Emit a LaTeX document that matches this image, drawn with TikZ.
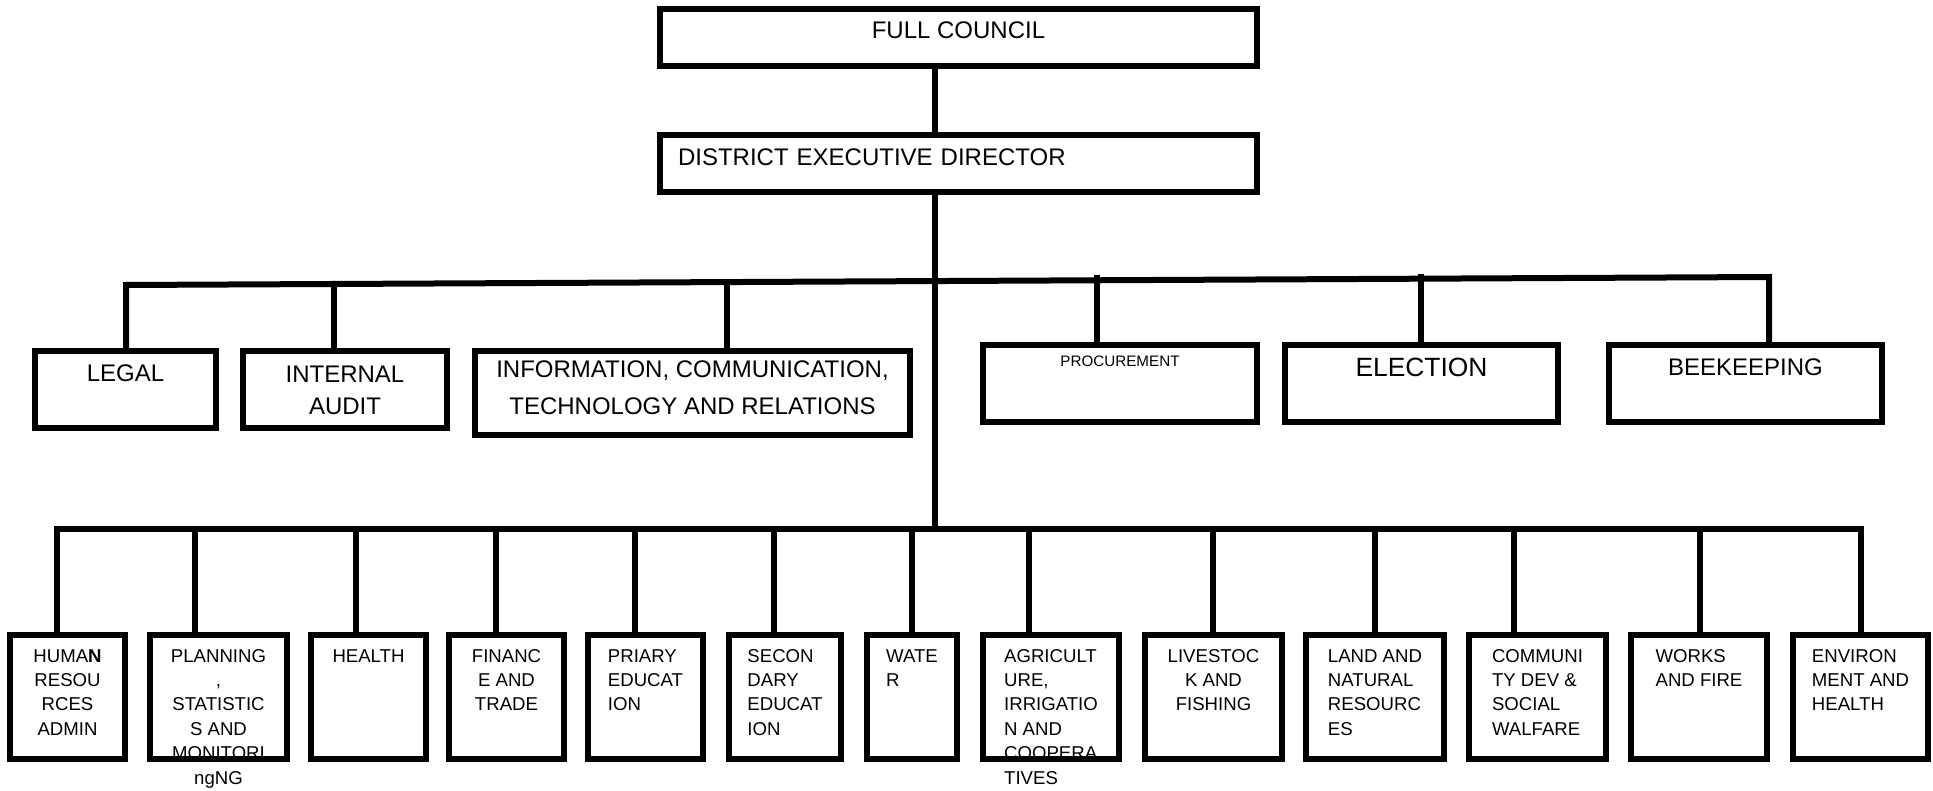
\documentclass[tikz,border=0pt]{standalone}
\usepackage{fontspec}
\setmainfont{Liberation Sans}
\usetikzlibrary{calc,positioning}

% lines of a box, first baseline on top
\newcommand{\boxlines}[2]{\begin{tabular}[t]{@{}#1@{}}#2\end{tabular}}

\begin{document}
\begin{tikzpicture}[x=0.5pt,y=-0.5pt]
    \tikzstyle{box}=[rectangle,draw=black,line width=3pt,inner sep=0pt,
    outer sep=0pt,anchor=north west]
    \tikzstyle{head}=[box,minimum width=298.5pt,text height=15pt,
    text depth=13.5pt,font=\fontsize{12}{15}\selectfont]
    \tikzstyle{unit}=[box,text height=15pt,text depth=23.5pt,
    font=\fontsize{12}{16}\selectfont]
    \tikzstyle{dept}=[box,text height=13.5pt,text depth=48.5pt,
    font=\fontsize{9.3}{12.2}\selectfont]
    \tikzstyle{link}=[line width=3pt]

    \useasboundingbox (0,0) rectangle (1933,791);

    % council and director
    \node[head](council) at (660,9){FULL COUNCIL};
    \node[head,text width=280.5pt,inner xsep=9pt,align=left,
    text height=15.5pt,text depth=13pt](ded) at (660,135){DISTRICT EXECUTIVE DIRECTOR};

    % units under the director
    \node[unit,minimum width=90.5pt](legal) at (35,351){LEGAL};
    \node[unit,minimum width=102pt,text height=15.5pt,text depth=23pt](audit)
    at (243,351){\boxlines{c}{INTERNAL\\AUDIT}};
    \node[unit,minimum width=217.5pt,text height=13.5pt,text depth=28.5pt,
    font=\fontsize{12}{18}\selectfont](ict) at (475,351){\boxlines{c}{INFORMATION, COMMUNICATION,\\TECHNOLOGY AND RELATIONS}};
    \node[unit,minimum width=137pt,text height=10.5pt,text depth=28pt,
    font=\fontsize{7.6}{9}\selectfont](proc) at (983,345){PROCUREMENT};
    \node[unit,minimum width=136.5pt,text height=15.5pt,text depth=23pt,
    font=\fontsize{13.2}{16}\selectfont](election) at (1285,345){ELECTION};
    \node[unit,minimum width=136.5pt](bee) at (1609,345){BEEKEEPING};

    % departments
    \node[dept,minimum width=57.5pt](hr) at (10,635){\boxlines{c}{HUMA\textbf{N}\\RESOU\\RCES\\ADMIN}};
    \node[dept,minimum width=68.5pt](plan) at (150,635){\boxlines{c}{PLANNING\\,\\STATISTIC\\S AND\\MONITORI\\ngNG}};
    \node[dept,minimum width=57.5pt](health) at (311,635){HEALTH};
    \node[dept,minimum width=57.5pt](finance) at (449,635){\boxlines{c}{FINANC\\E AND\\TRADE}};
    \node[dept,minimum width=57.5pt](primary) at (588,635){\boxlines{l}{PRIARY\\EDUCAT\\ION}};
    \node[dept,minimum width=56pt](secondary) at (729,635){\boxlines{l}{SECON\\DARY\\EDUCAT\\ION}};
    \node[dept,minimum width=45pt](water) at (867,635){\boxlines{l}{WATE\\R}};
    \node[dept,minimum width=68pt](agri) at (983,635){\boxlines{l}{AGRICULT\\URE,\\IRRIGATIO\\N AND\\COOPERA\\TIVES}};
    \node[dept,minimum width=68.5pt](livestock) at (1145,635){\boxlines{c}{LIVESTOC\\K AND\\FISHING}};
    \node[dept,minimum width=69pt](land) at (1306,635){\boxlines{l}{LAND AND\\NATURAL\\RESOURC\\ES}};
    \node[dept,minimum width=68.5pt](community) at (1469,635){\boxlines{l}{COMMUNI\\TY DEV \&\\SOCIAL\\WALFARE}};
    \node[dept,minimum width=68pt](works) at (1631,635){\boxlines{l}{WORKS\\AND FIRE}};
    \node[dept,minimum width=67.5pt](env) at (1793,635){\boxlines{l}{ENVIRON\\MENT AND\\HEALTH}};

    % bottom edges over the long texts
    \draw[line width=3pt] (plan.south west) -- (plan.south east);
    \draw[line width=3pt] (agri.south west) -- (agri.south east);

    % spine
    \coordinate (spine) at (935,529);
    \draw[link] (council.south -| spine) -- (ded.north -| spine);
    \draw[link] (ded.south -| spine) -- (spine);

    % upper bus
    \coordinate (legal_tap) at (126,285);
    \coordinate (audit_tap) at (334,284);
    \coordinate (ict_tap) at (727,282);
    \coordinate (proc_tap) at (1097,275);
    \coordinate (election_tap) at (1421,274);
    \coordinate (bee_tap) at (1769,277);
    \draw[link] (legal.north -| legal_tap) -- (legal_tap) -- (bee_tap) -- (bee.north -| bee_tap);
    \draw[link] (audit_tap) -- (audit.north -| audit_tap);
    \draw[link] (ict_tap) -- (ict.north -| ict_tap);
    \draw[link] (proc_tap) -- (proc.north -| proc_tap);
    \draw[link] (election_tap) -- (election.north -| election_tap);

    % lower bus
    \coordinate (hr_tap) at (57,529);
    \coordinate (plan_tap) at (195,529);
    \coordinate (health_tap) at (356,529);
    \coordinate (finance_tap) at (496,529);
    \coordinate (primary_tap) at (635,529);
    \coordinate (secondary_tap) at (774,529);
    \coordinate (water_tap) at (912,529);
    \coordinate (agri_tap) at (1029,529);
    \coordinate (livestock_tap) at (1213,529);
    \coordinate (land_tap) at (1375,529);
    \coordinate (community_tap) at (1514,529);
    \coordinate (works_tap) at (1700,529);
    \coordinate (env_tap) at (1861,529);
    \draw[link] (hr.north -| hr_tap) -- (hr_tap) -- (env_tap) -- (env.north -| env_tap);
    \draw[link] (plan_tap) -- (plan.north -| plan_tap);
    \draw[link] (health_tap) -- (health.north -| health_tap);
    \draw[link] (finance_tap) -- (finance.north -| finance_tap);
    \draw[link] (primary_tap) -- (primary.north -| primary_tap);
    \draw[link] (secondary_tap) -- (secondary.north -| secondary_tap);
    \draw[link] (water_tap) -- (water.north -| water_tap);
    \draw[link] (agri_tap) -- (agri.north -| agri_tap);
    \draw[link] (livestock_tap) -- (livestock.north -| livestock_tap);
    \draw[link] (land_tap) -- (land.north -| land_tap);
    \draw[link] (community_tap) -- (community.north -| community_tap);
    \draw[link] (works_tap) -- (works.north -| works_tap);
\end{tikzpicture}
\end{document}
